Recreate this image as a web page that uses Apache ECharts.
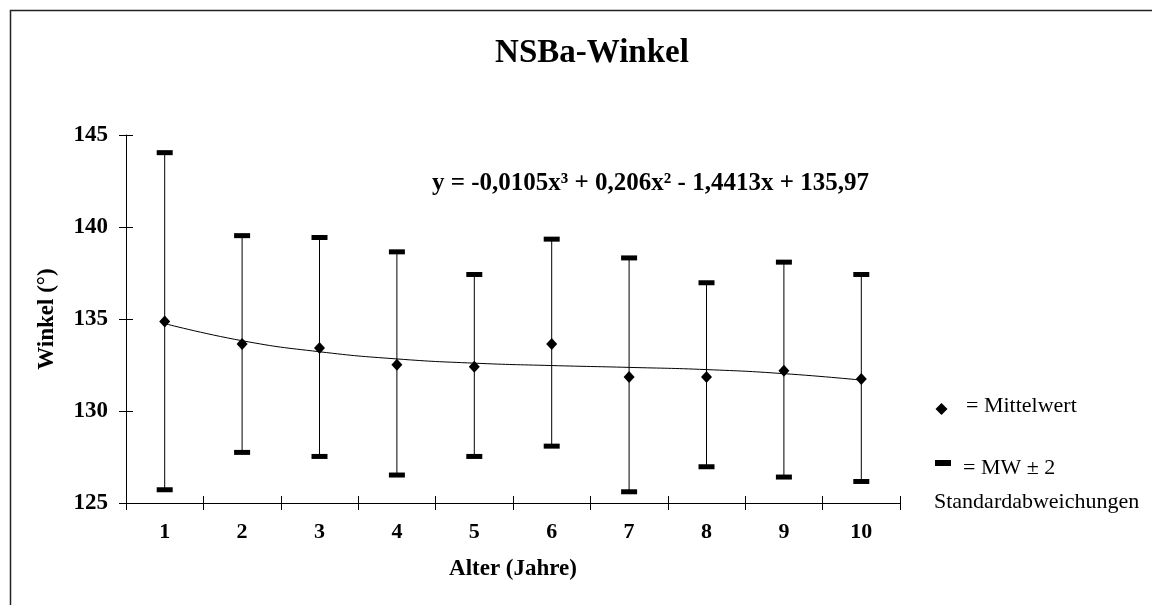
<!DOCTYPE html>
<html>
<head>
<meta charset="utf-8">
<script src="https://cdn.jsdelivr.net/npm/echarts@6/dist/echarts.min.js"></script>
<style>
  html, body { margin: 0; padding: 0; background: #fff; }
  #nsba { width: 1152px; height: 605px; }
</style>
</head>
<body>
<div id="nsba"></div>
<script>
// Alter (Jahre)
var ages = ['1', '2', '3', '4', '5', '6', '7', '8', '9', '10'];
// Mittelwert
var means = [134.87, 133.64, 133.42, 132.51, 132.4, 133.64, 131.85, 131.85, 132.19, 131.74];
// MW - 2 SD / MW + 2 SD
var lower = [125.72, 127.75, 127.53, 126.52, 127.53, 128.09, 125.61, 126.97, 126.41, 126.17];
var upper = [144.04, 139.53, 139.43, 138.65, 137.42, 139.34, 138.32, 136.97, 138.09, 137.42];
// polynomial trendline
var trend = [134.75, 133.82, 133.22, 132.83, 132.6, 132.47, 132.37, 132.25, 132.03, 131.68];
var yTicks = { min: 125, max: 145, step: 5 };

function draw_nsba() {
  var dom = document.getElementById('nsba');
  var myChart = echarts.init(dom, null, { renderer: 'canvas' });
  var serif = '"Liberation Serif", "Times New Roman", serif';

  var bars = ages.map(function (a, i) {
    return [i, lower[i], upper[i]];
  });

  var option = {
    backgroundColor: '#fff',
    animation: false,
    title: {
      text: 'NSBa-Winkel',
      left: 587,
      top: 32,
      textAlign: 'center',
      textStyle: { fontFamily: serif, fontSize: 33, fontWeight: 'bold', color: '#000' }
    },
    grid: { left: 126, right: 252, top: 135, bottom: 102 },
    xAxis: [
      {
        type: 'category',
        data: ages,
        position: 'bottom',
        name: 'Alter (Jahre)',
        nameLocation: 'middle',
        nameGap: 55,
        nameTextStyle: { fontFamily: serif, fontSize: 23, fontWeight: 'bold', color: '#000' },
        axisLine: { show: true, lineStyle: { color: '#000', width: 1 } },
        axisTick: { show: true, interval: 0, length: 7, lineStyle: { color: '#000', width: 1 } },
        axisLabel: { fontFamily: serif, fontSize: 22, fontWeight: 'bold', color: '#000', margin: 18 },
        splitLine: { show: false }
      },
      {
        type: 'category',
        data: ages,
        position: 'bottom',
        axisLine: { show: false },
        axisTick: { show: true, interval: 0, inside: true, length: 7, lineStyle: { color: '#000', width: 1 } },
        axisLabel: { show: false },
        splitLine: { show: false }
      }
    ],
    yAxis: [
      {
        type: 'value',
        min: yTicks.min,
        max: yTicks.max,
        interval: yTicks.step,
        position: 'left',
        name: 'Winkel (°)',
        nameLocation: 'middle',
        nameGap: 67,
        nameTextStyle: { fontFamily: serif, fontSize: 23, fontWeight: 'bold', color: '#000' },
        axisLine: { show: true, lineStyle: { color: '#000', width: 1 } },
        axisTick: { show: true, length: 7, lineStyle: { color: '#000' } },
        axisLabel: { fontFamily: serif, fontSize: 23, fontWeight: 'bold', color: '#000', margin: 18 },
        splitLine: { show: false }
      },
      {
        type: 'value',
        min: yTicks.min,
        max: yTicks.max,
        interval: yTicks.step,
        position: 'left',
        axisLine: { show: false },
        axisTick: { show: true, inside: true, length: 7, lineStyle: { color: '#000' } },
        axisLabel: { show: false },
        splitLine: { show: false }
      }
    ],
    series: [
      {
        name: 'Trend',
        type: 'line',
        data: trend,
        smooth: true,
        symbol: 'none',
        lineStyle: { color: '#000', width: 1 },
        z: 2
      },
      {
        name: 'MW ± 2 SD',
        type: 'custom',
        data: bars,
        encode: { x: 0, y: [1, 2] },
        z: 3,
        renderItem: function (params, api) {
          var lo = api.coord([api.value(0), api.value(1)]);
          var hi = api.coord([api.value(0), api.value(2)]);
          var w = 16, h = 5;
          return {
            type: 'group',
            children: [
              { type: 'line', shape: { x1: lo[0], y1: lo[1], x2: hi[0], y2: hi[1] },
                style: { stroke: '#000', lineWidth: 1 } },
              { type: 'rect', shape: { x: lo[0] - w / 2, y: lo[1] - h / 2, width: w, height: h },
                style: { fill: '#000' } },
              { type: 'rect', shape: { x: hi[0] - w / 2, y: hi[1] - h / 2, width: w, height: h },
                style: { fill: '#000' } }
            ]
          };
        }
      },
      {
        name: 'Mittelwert',
        type: 'scatter',
        data: means,
        symbol: 'diamond',
        symbolSize: [11, 12],
        itemStyle: { color: '#000', opacity: 1 },
        z: 4
      }
    ],
    graphic: [
      { type: 'rect', shape: { x: 10.5, y: 10.5, width: 1400, height: 800 },
        style: { fill: null, stroke: '#222', lineWidth: 1.5 }, silent: true },
      { type: 'text', x: 432, y: 184,
        style: { text: 'y = -0,0105x³ + 0,206x² - 1,4413x + 135,97', fill: '#000',
          font: 'bold 25px ' + serif, verticalAlign: 'middle' } },
      // legend
      { type: 'polygon', shape: { points: [[941.5, 403], [947.5, 409], [941.5, 415], [935.5, 409]] },
        style: { fill: '#000' } },
      { type: 'text', x: 966, y: 406,
        style: { text: '= Mittelwert', fill: '#000', font: '22px ' + serif, verticalAlign: 'middle' } },
      { type: 'rect', shape: { x: 935, y: 460, width: 16, height: 6 }, style: { fill: '#000' } },
      { type: 'text', x: 963, y: 468,
        style: { text: '= MW ± 2', fill: '#000', font: '22px ' + serif, verticalAlign: 'middle' } },
      { type: 'text', x: 934, y: 502,
        style: { text: 'Standardabweichungen', fill: '#000', font: '22px ' + serif, verticalAlign: 'middle' } }
    ]
  };

  myChart.setOption(option);
  window.onresize = myChart.resize;
}

draw_nsba();
</script>
</body>
</html>
